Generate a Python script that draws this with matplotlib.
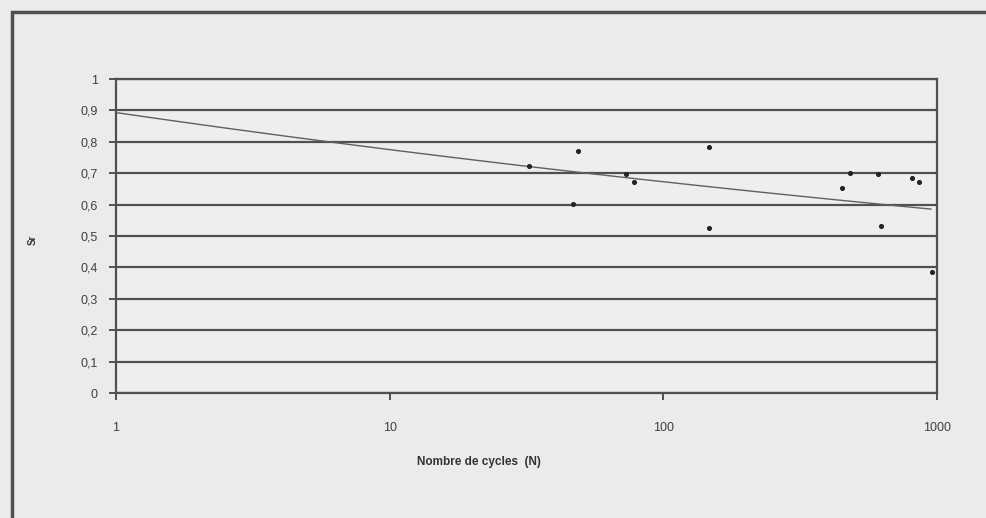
import numpy as np
import matplotlib
matplotlib.use('Agg')
import matplotlib.pyplot as plt
from matplotlib.patches import Rectangle

# data
n_cycles = [32.3, 48.6, 46.9, 73.1, 78.4, 147, 147, 451, 481, 607, 626, 807, 861, 957]
ratio = [0.723, 0.770, 0.602, 0.696, 0.671, 0.782, 0.524, 0.654, 0.702, 0.698, 0.533, 0.684, 0.673, 0.386]
# power trend line y = a * N^b, coefficients
trend_a = 0.893
trend_b = -0.0615
trend_range = [1, 950]
y_ticks = [0, 0.1, 0.2, 0.3, 0.4, 0.5, 0.6, 0.7, 0.8, 0.9, 1]
y_labels = ['0', '0,1', '0,2', '0,3', '0,4', '0,5', '0,6', '0,7', '0,8', '0,9', '1']
x_ticks = [1, 10, 100, 1000]
x_labels = ['1', '10', '100', '1000']

plt.rcParams['font.family'] = 'Liberation Sans'
bg = '#ebebeb'
dark = '#505050'

fig = plt.figure(figsize=(9.87, 5.18), dpi=100, facecolor=bg)
ax = fig.add_axes([116/987, 1-393/518, (937-116)/987, (393-79)/518])
ax.set_facecolor('#eeeeee')

tx = np.logspace(np.log10(trend_range[0]), np.log10(trend_range[1]), 200)
ax.plot(tx, trend_a * tx**trend_b, color='#606060', lw=1.0, zorder=3)
ax.scatter(n_cycles, ratio, s=7, color='#222222', marker='o', zorder=4)

ax.set_xscale('log')
ax.set_xlim(1, 1000)
ax.set_ylim(0, 1)
ax.set_yticks(y_ticks)
ax.set_yticklabels(y_labels)
ax.set_xticks(x_ticks)
ax.set_xticklabels(x_labels)
ax.minorticks_off()
ax.yaxis.grid(True, color=dark, lw=1.6)
ax.set_axisbelow(True)
for sp in ax.spines.values():
    sp.set_color(dark)
    sp.set_linewidth(1.6)
ax.tick_params(axis='both', colors=dark, labelcolor='#404040', labelsize=9,
               length=5, width=1.4, direction='out')
ax.tick_params(axis='x', pad=16)
ax.tick_params(axis='y', pad=8)

fig.text(479/987, 1-462/518, 'Nombre de cycles  (N)', ha='center', va='center',
         fontsize=8.5, fontweight='bold', color='#333333')
fig.text(33/987, 1-240/518, 'Sr', ha='center', va='center', rotation=90,
         fontsize=7, fontweight='bold', color='#333333')

# scanned page border
fig.patches.append(Rectangle((12/987, -0.05), 1.1, 1-12/518+0.05, transform=fig.transFigure,
                             fill=False, edgecolor=dark, lw=2.5))

fig.savefig('out.png', dpi=100, facecolor=bg)
